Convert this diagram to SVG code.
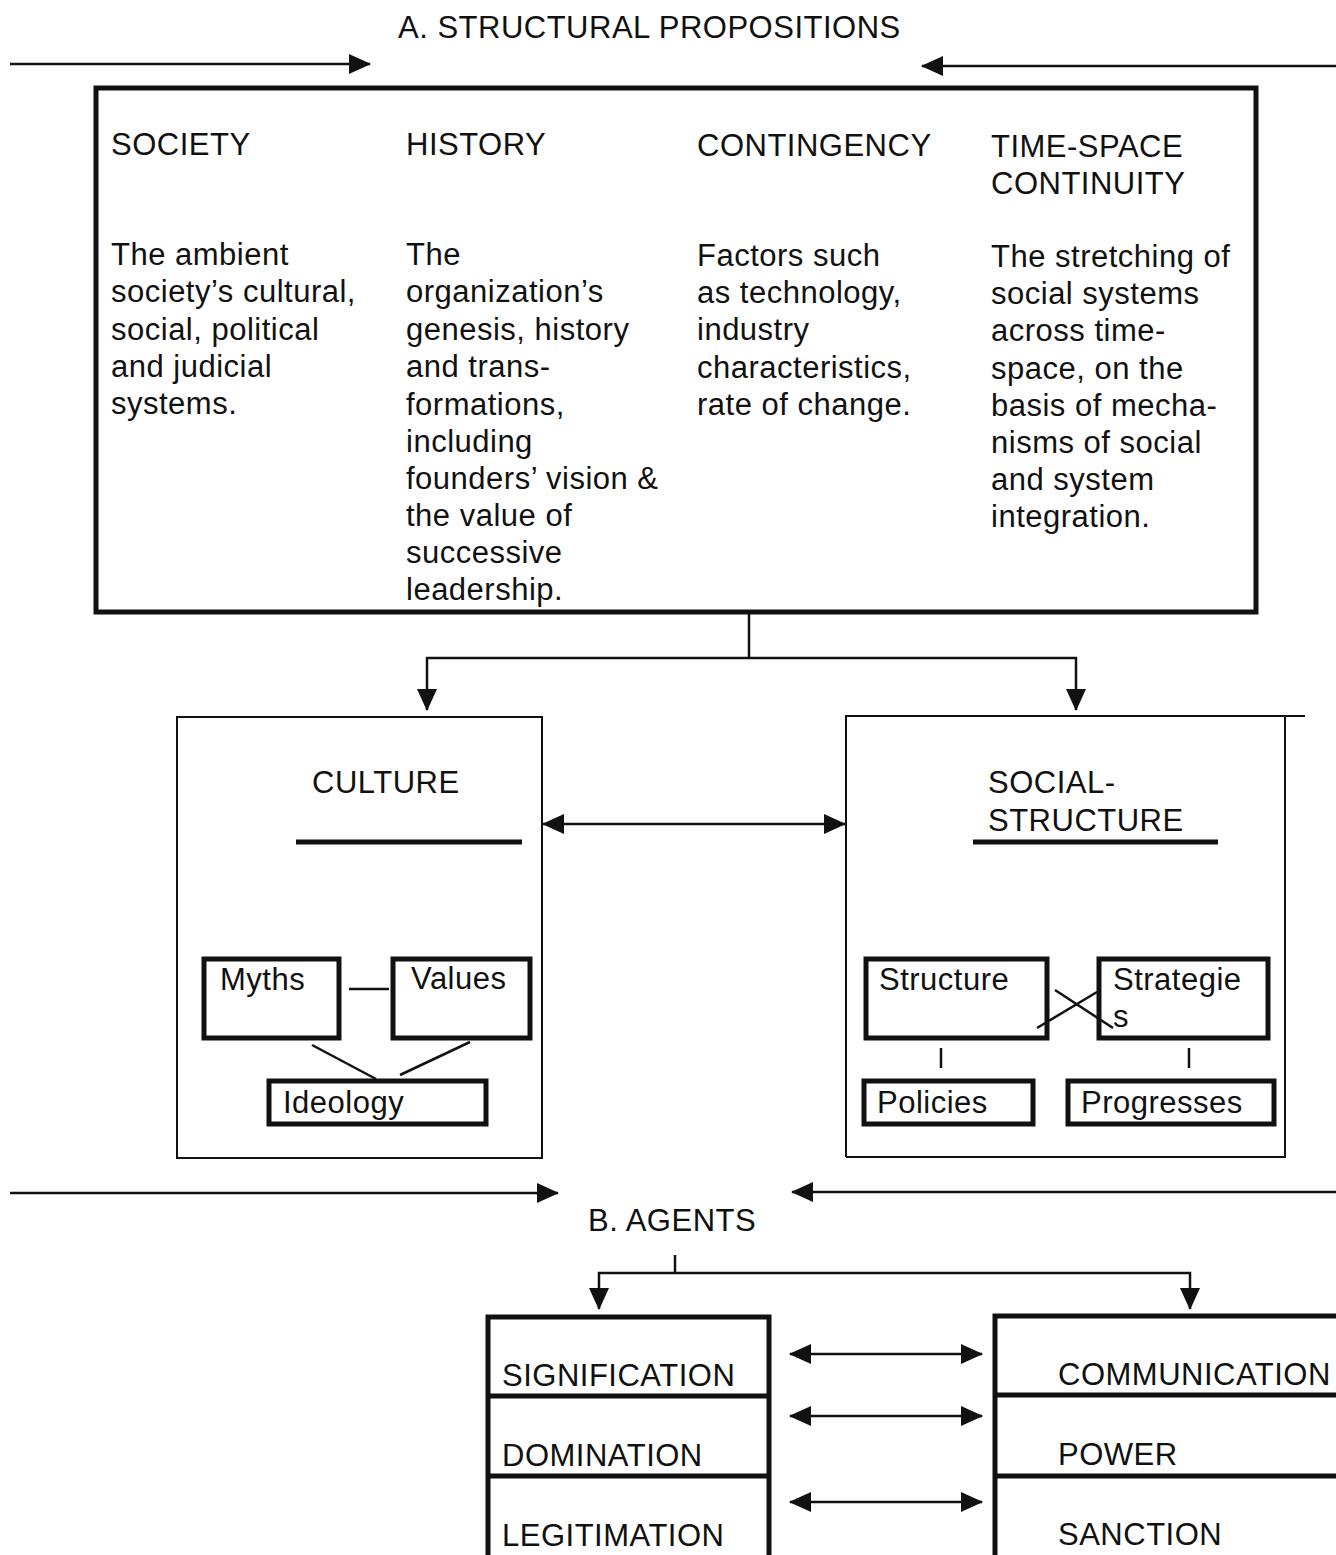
<svg xmlns="http://www.w3.org/2000/svg" width="1336" height="1555" viewBox="0 0 1336 1555">
  <style>
    text { font-family: "Liberation Sans", Arial, sans-serif; font-size: 31px; letter-spacing: 0.5px; fill: #111; }
    .thick { fill: none; stroke: #111; stroke-width: 5; }
    .thin { fill: none; stroke: #111; stroke-width: 2; }
    .line { fill: none; stroke: #111; stroke-width: 2.5; }
    .bar { stroke: #111; stroke-width: 5; }
  </style>
  <defs>
    <marker id="head" markerUnits="userSpaceOnUse" markerWidth="22" markerHeight="20" refX="21" refY="10" orient="auto-start-reverse">
      <path d="M0,0 L22,10 L0,20 Z" fill="#111"/>
    </marker>
  </defs>
  <rect width="1336" height="1555" fill="#fff"/>

  <!-- Section A heading -->
  <text x="398" y="38">A. STRUCTURAL PROPOSITIONS</text>

  <!-- Structural propositions box -->
  <g id="structural-propositions">
    <rect class="thick" x="96" y="88" width="1160" height="524"/>
    <text x="111" y="155">SOCIETY</text>
    <text x="111" y="265">The ambient</text>
    <text x="111" y="302">society’s cultural,</text>
    <text x="111" y="340">social, political</text>
    <text x="111" y="377">and judicial</text>
    <text x="111" y="414">systems.</text>

    <text x="406" y="155">HISTORY</text>
    <text x="406" y="265">The</text>
    <text x="406" y="302">organization’s</text>
    <text x="406" y="340">genesis, history</text>
    <text x="406" y="377">and trans-</text>
    <text x="406" y="415">formations,</text>
    <text x="406" y="452">including</text>
    <text x="406" y="489">founders’ vision &amp;</text>
    <text x="406" y="526">the value of</text>
    <text x="406" y="563">successive</text>
    <text x="406" y="600">leadership.</text>

    <text x="697" y="156">CONTINGENCY</text>
    <text x="697" y="266">Factors such</text>
    <text x="697" y="303">as technology,</text>
    <text x="697" y="340">industry</text>
    <text x="697" y="378">characteristics,</text>
    <text x="697" y="415">rate of change.</text>

    <text x="991" y="157">TIME-SPACE</text>
    <text x="991" y="194">CONTINUITY</text>
    <text x="991" y="267">The stretching of</text>
    <text x="991" y="304">social systems</text>
    <text x="991" y="341">across time-</text>
    <text x="991" y="379">space,  on the</text>
    <text x="991" y="416">basis of mecha-</text>
    <text x="991" y="453">nisms of social</text>
    <text x="991" y="490">and system</text>
    <text x="991" y="527">integration.</text>
  </g>

  <!-- Culture box -->
  <g id="culture">
    <rect class="thin" x="177" y="717" width="365" height="441"/>
    <text x="312" y="793">CULTURE</text>
    <line class="bar" x1="296" y1="842" x2="522" y2="842"/>
  </g>
  <g id="myths">
    <rect class="thick" x="204" y="959" width="135" height="79"/>
    <text x="220" y="990">Myths</text>
  </g>
  <g id="values">
    <rect class="thick" x="393" y="959" width="137" height="79"/>
    <text x="411" y="989">Values</text>
  </g>
  <g id="ideology">
    <rect class="thick" x="269" y="1081" width="217" height="43"/>
    <text x="283" y="1113">Ideology</text>
  </g>

  <!-- Social structure box -->
  <g id="social-structure">
    <path class="thin" d="M846,1157 V716 H1305 M1285,716 V1157 H846"/>
    <text x="988" y="793">SOCIAL-</text>
    <text x="988" y="831">STRUCTURE</text>
    <line class="bar" x1="973" y1="842" x2="1218" y2="842"/>
  </g>
  <g id="structure">
    <rect class="thick" x="866" y="959" width="181" height="79"/>
    <text x="879" y="990">Structure</text>
  </g>
  <g id="strategies">
    <rect class="thick" x="1099" y="959" width="169" height="79"/>
    <text x="1113" y="990">Strategie</text>
    <text x="1113" y="1027">s</text>
  </g>
  <g id="policies">
    <rect class="thick" x="864" y="1081" width="169" height="43"/>
    <text x="877" y="1113">Policies</text>
  </g>
  <g id="progresses">
    <rect class="thick" x="1068" y="1081" width="206" height="43"/>
    <text x="1081" y="1113">Progresses</text>
  </g>

  <!-- Section B heading -->
  <text x="588" y="1231">B. AGENTS</text>

  <!-- Agents: modalities -->
  <g id="modalities">
    <path class="thick" d="M488,1555 V1317 H769 V1555"/>
    <line class="thick" x1="488" y1="1396" x2="769" y2="1396"/>
    <line class="thick" x1="488" y1="1476" x2="769" y2="1476"/>
    <text x="502" y="1386">SIGNIFICATION</text>
    <text x="502" y="1466">DOMINATION</text>
    <text x="502" y="1546">LEGITIMATION</text>
  </g>
  <g id="interaction">
    <path class="thick" d="M1336,1316 H995 V1555"/>
    <line class="thick" x1="995" y1="1395" x2="1336" y2="1395"/>
    <line class="thick" x1="995" y1="1476" x2="1336" y2="1476"/>
    <text x="1058" y="1385">COMMUNICATION</text>
    <text x="1058" y="1465">POWER</text>
    <text x="1058" y="1545">SANCTION</text>
  </g>

  <!-- Connectors -->
  <g id="connectors">
    <line class="line" x1="10" y1="64" x2="370" y2="64" marker-end="url(#head)"/>
    <line class="line" x1="1336" y1="66" x2="922" y2="66" marker-end="url(#head)"/>

    <path class="line" d="M749,613 V658"/>
    <path class="line" d="M749,658 H427 V710" marker-end="url(#head)"/>
    <path class="line" d="M749,658 H1076 V710" marker-end="url(#head)"/>

    <line class="line" x1="543" y1="824" x2="845" y2="824" marker-start="url(#head)" marker-end="url(#head)"/>

    <line class="line" x1="349" y1="989" x2="389" y2="989"/>
    <line class="line" x1="312" y1="1045" x2="376" y2="1079"/>
    <line class="line" x1="470" y1="1042" x2="400" y2="1075"/>

    <line class="line" x1="1037" y1="1028" x2="1097" y2="992"/>
    <line class="line" x1="1055" y1="990" x2="1113" y2="1028"/>
    <line class="line" x1="941" y1="1048" x2="941" y2="1068"/>
    <line class="line" x1="1189" y1="1048" x2="1189" y2="1068"/>

    <line class="line" x1="10" y1="1193" x2="558" y2="1193" marker-end="url(#head)"/>
    <line class="line" x1="1336" y1="1192" x2="792" y2="1192" marker-end="url(#head)"/>

    <line class="line" x1="675" y1="1255" x2="675" y2="1273"/>
    <path class="line" d="M675,1273 H599 V1309" marker-end="url(#head)"/>
    <path class="line" d="M675,1273 H1190 V1309" marker-end="url(#head)"/>

    <line class="line" x1="790" y1="1354" x2="982" y2="1354" marker-start="url(#head)" marker-end="url(#head)"/>
    <line class="line" x1="790" y1="1416" x2="982" y2="1416" marker-start="url(#head)" marker-end="url(#head)"/>
    <line class="line" x1="790" y1="1502" x2="982" y2="1502" marker-start="url(#head)" marker-end="url(#head)"/>
  </g>
</svg>
